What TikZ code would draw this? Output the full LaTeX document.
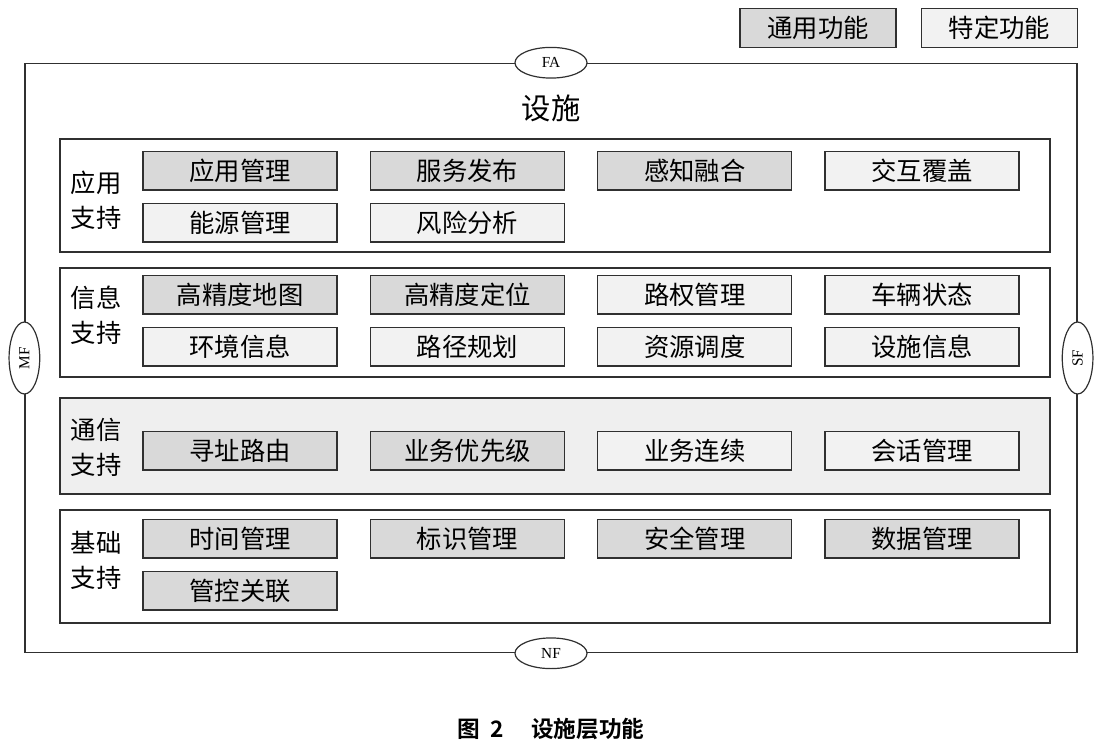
\documentclass[tikz,border=0pt]{standalone}
\usepackage{fontspec}
\setmainfont{Noto Sans CJK SC}
\newfontfamily\cjkbold{Noto Sans CJK SC Bold}
\newfontfamily\latinserif{Liberation Serif}
\usepackage{tikz}
\usetikzlibrary{shapes,positioning}
\usepackage{xcolor}
\definecolor{gendark}{HTML}{D9D9D9}
\definecolor{speclight}{HTML}{F2F2F2}
\definecolor{commfill}{HTML}{EFEFEF}
\definecolor{edge}{HTML}{303030}

\begin{document}
\begin{tikzpicture}[
  x=0.75pt, y=-0.75pt,
  node distance=9pt and 24pt,
  func/.style={draw=edge, line width=1pt, minimum width=145.5pt, minimum height=29pt, inner sep=0pt, font=\fontsize{19}{22}\selectfont},
  general/.style={func, fill=gendark},
  specific/.style={func, fill=speclight},
  layer/.style={draw=edge, line width=0.9pt, minimum width=742.5pt, inner sep=0pt},
  layerlabel/.style={align=center, font=\fontsize{19}{26}\selectfont},
  port/.style={ellipse, draw=edge, line width=0.9pt, fill=white, minimum width=54pt, minimum height=23pt, inner sep=0pt, font=\latinserif\fontsize{11.5}{13}\selectfont}
]
  \useasboundingbox (0,0) rectangle (1103,750);

  % legend
  \node[general, minimum width=117pt] (legendgen) at (818,28) {通用功能};
  \node[specific, minimum width=117pt] (legendspec) at (999.5,28) {特定功能};

  % facility frame
  \node[draw=edge, line width=0.9pt, minimum width=789pt, minimum height=442pt, inner sep=0pt] (facility) at (551,358) {};
  \node[font=\fontsize{22}{26}\selectfont] (facilitytitle) at (551,108) {设施};

  % application support
  \node[layer, minimum height=84.75pt] (appsupport) at (555,195.5) {};
  \node[layerlabel] (applabel) at (96,200) {应用\\支持};
  \node[general] (appmgmt) at (240,170.5) {应用管理};
  \node[general, right=of appmgmt] (svcpub) {服务发布};
  \node[general, right=of svcpub] (sensefusion) {感知融合};
  \node[specific, right=of sensefusion] (interact) {交互覆盖};
  \node[specific, below=of appmgmt] (energy) {能源管理};
  \node[specific, right=of energy] (risk) {风险分析};

  % information support
  \node[layer, minimum height=81.75pt] (infosupport) at (555,322.5) {};
  \node[layerlabel] (infolabel) at (96,315.5) {信息\\支持};
  \node[general] (hdmap) at (240,294.5) {高精度地图};
  \node[general, right=of hdmap] (hdpos) {高精度定位};
  \node[specific, right=of hdpos] (rightofway) {路权管理};
  \node[specific, right=of rightofway] (vehstate) {车辆状态};
  \node[specific, below=of hdmap] (environ) {环境信息};
  \node[specific, right=of environ] (pathplan) {路径规划};
  \node[specific, right=of pathplan] (resched) {资源调度};
  \node[specific, right=of resched] (facinfo) {设施信息};

  % communication support
  \node[layer, minimum height=72pt, fill=commfill] (commsupport) at (555,446) {};
  \node[layerlabel] (commlabel) at (96,447.5) {通信\\支持};
  \node[general] (routing) at (240,450.5) {寻址路由};
  \node[general, right=of routing] (priority) {业务优先级};
  \node[specific, right=of priority] (continuity) {业务连续};
  \node[specific, right=of continuity] (session) {会话管理};

  % basic support
  \node[layer, minimum height=84.75pt] (basesupport) at (555,566.5) {};
  \node[layerlabel] (baselabel) at (96,560.5) {基础\\支持};
  \node[general] (timemgmt) at (240,538.5) {时间管理};
  \node[general, right=of timemgmt] (idmgmt) {标识管理};
  \node[general, right=of idmgmt] (secmgmt) {安全管理};
  \node[general, right=of secmgmt] (datamgmt) {数据管理};
  \node[general, below=of timemgmt] (ctrlassoc) {管控关联};

  % reference points
  \node[port] (fa) at (facility.north) {FA};
  \node[port] (nf) at (facility.south) {NF};
  \node[port, rotate=90] (mf) at (facility.west) {MF};
  \node[port, rotate=90] (sf) at (facility.east) {SF};

  \node[font=\cjkbold\fontsize{17}{20}\selectfont] (caption) at (551,729) {图\hspace{0.45em}2\hspace{1.2em}设施层功能};
\end{tikzpicture}
\end{document}
